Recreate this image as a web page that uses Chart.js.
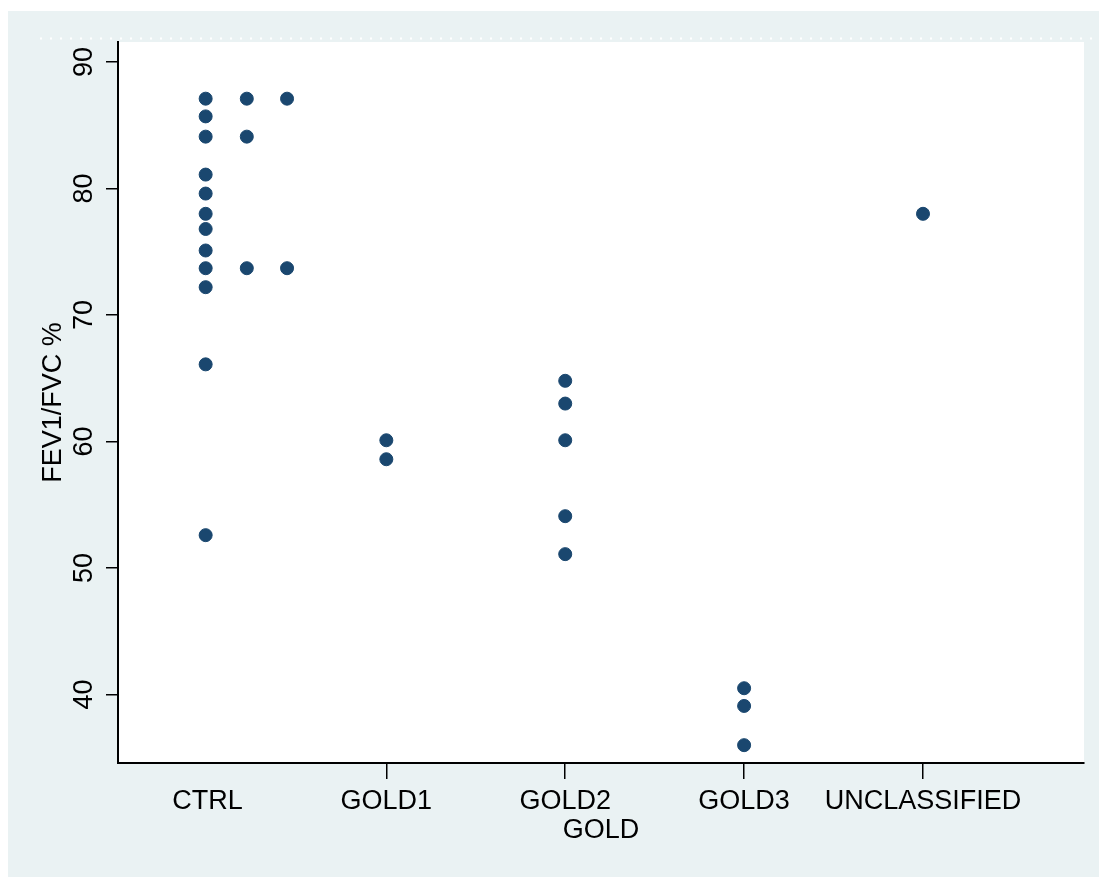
<!DOCTYPE html>
<html>
<head>
<meta charset="utf-8">
<script src="https://cdn.jsdelivr.net/npm/chart.js@4.4.1/dist/chart.umd.min.js"></script>
<style>
  html, body { margin: 0; padding: 0; background: #ffffff; }
  #wrap { position: absolute; left: 0; top: 0; width: 1099px; height: 877px; }
</style>
</head>
<body>
<div id="wrap"><canvas id="c" width="1099" height="877"></canvas></div>
<script>
// ---- data ----
const categories = ['CTRL', 'GOLD1', 'GOLD2', 'GOLD3', 'UNCLASSIFIED'];
const categoryPositions = [1, 2, 3, 4, 5];
const yTickValues = [40, 50, 60, 70, 80, 90];

const ctrlPositions = [0.99, 0.99, 0.99, 0.99, 0.99, 0.99, 0.99, 0.99, 0.99, 0.99, 0.99, 0.99,
                       1.22, 1.22, 1.22, 1.445, 1.445];
const ctrlValues    = [87.1, 85.7, 84.1, 81.1, 79.6, 78.0, 76.8, 75.1, 73.7, 72.2, 66.1, 52.6,
                       87.1, 84.1, 73.7, 87.1, 73.7];
const gold1Positions = [2, 2];
const gold1Values    = [60.1, 58.6];
const gold2Positions = [3, 3, 3, 3, 3];
const gold2Values    = [64.8, 63.0, 60.1, 54.1, 51.1];
const gold3Positions = [4, 4, 4];
const gold3Values    = [40.5, 39.1, 36.0];
const unclassifiedPositions = [5];
const unclassifiedValues    = [78.0];

const yTitle = 'FEV1/FVC %';
const xTitle = 'GOLD';

// ---- build ----
function pts(xs, ys) { return xs.map((x, i) => ({ x: x, y: ys[i] })); }
const allPoints = [].concat(
  pts(ctrlPositions, ctrlValues),
  pts(gold1Positions, gold1Values),
  pts(gold2Positions, gold2Values),
  pts(gold3Positions, gold3Values),
  pts(unclassifiedPositions, unclassifiedValues)
);

const MARK = '#1a476f';
const BG = '#eaf2f3';
const FONT = "'Liberation Sans', Arial, sans-serif";

const bgPlugin = {
  id: 'bg',
  beforeDraw(chart) {
    const ctx = chart.ctx, a = chart.chartArea;
    ctx.save();
    ctx.fillStyle = '#ffffff';
    ctx.fillRect(0, 0, chart.width, chart.height);
    ctx.fillStyle = BG;
    ctx.fillRect(8, 11, chart.width - 8, chart.height - 11);
    ctx.fillStyle = '#ffffff';
    ctx.fillRect(a.left, a.top, a.right - a.left, a.bottom - a.top);
    // faint dotted line above plot region
    ctx.strokeStyle = '#ffffff';
    ctx.lineWidth = 2;
    ctx.setLineDash([2, 8]);
    ctx.beginPath();
    ctx.moveTo(40, 38.5);
    ctx.lineTo(chart.width, 38.5);
    ctx.stroke();
    ctx.restore();
  }
};

new Chart(document.getElementById('c'), {
  type: 'scatter',
  data: {
    datasets: [{
      data: allPoints,
      backgroundColor: MARK,
      borderColor: MARK,
      pointRadius: 6.5,
      pointBorderWidth: 1,
      pointHoverRadius: 6.5
    }]
  },
  options: {
    responsive: false,
    animation: false,
    events: [],
    layout: { padding: { top: 42, right: 15, left: 0, bottom: 0 } },
    plugins: { legend: { display: false }, tooltip: { enabled: false } },
    scales: {
      x: {
        type: 'linear',
        min: 0.5,
        max: 5.9,
        afterBuildTicks(scale) { scale.ticks = categoryPositions.map(v => ({ value: v })); },
        afterFit(scale) { scale.height = 114; },
        border: { display: true, color: '#000', width: 2 },
        grid: {
          drawOnChartArea: false,
          drawTicks: true,
          tickLength: 16,
          lineWidth: 1.5,
          color: (ctx) => (ctx.tick && ctx.tick.value === 1) ? 'rgba(0,0,0,0)' : '#000'
        },
        ticks: {
          color: '#000',
          font: { family: FONT, size: 27 },
          padding: 6,
          maxRotation: 0,
          minRotation: 0,
          autoSkip: false,
          callback: (v) => { const i = categoryPositions.indexOf(v); return i >= 0 ? categories[i] : ''; }
        },
        title: {
          display: true,
          text: xTitle,
          color: '#000',
          font: { family: FONT, size: 27 },
          padding: { top: 0, bottom: 30 }
        }
      },
      y: {
        type: 'linear',
        min: 34.59,
        max: 91.58,
        afterBuildTicks(scale) { scale.ticks = yTickValues.map(v => ({ value: v })); },
        afterFit(scale) { scale.width = 118; },
        border: { display: true, color: '#000', width: 2 },
        grid: {
          drawOnChartArea: false,
          drawTicks: true,
          tickLength: 12,
          lineWidth: 1.5,
          color: '#000'
        },
        ticks: {
          color: '#000',
          font: { family: FONT, size: 27 },
          padding: 6,
          minRotation: 90,
          maxRotation: 90,
          crossAlign: 'center',
          callback: (v) => String(v)
        },
        title: {
          display: true,
          text: yTitle,
          color: '#000',
          font: { family: FONT, size: 27 },
          padding: { top: 37, bottom: 0 }
        }
      }
    }
  },
  plugins: [bgPlugin]
});
</script>
</body>
</html>
